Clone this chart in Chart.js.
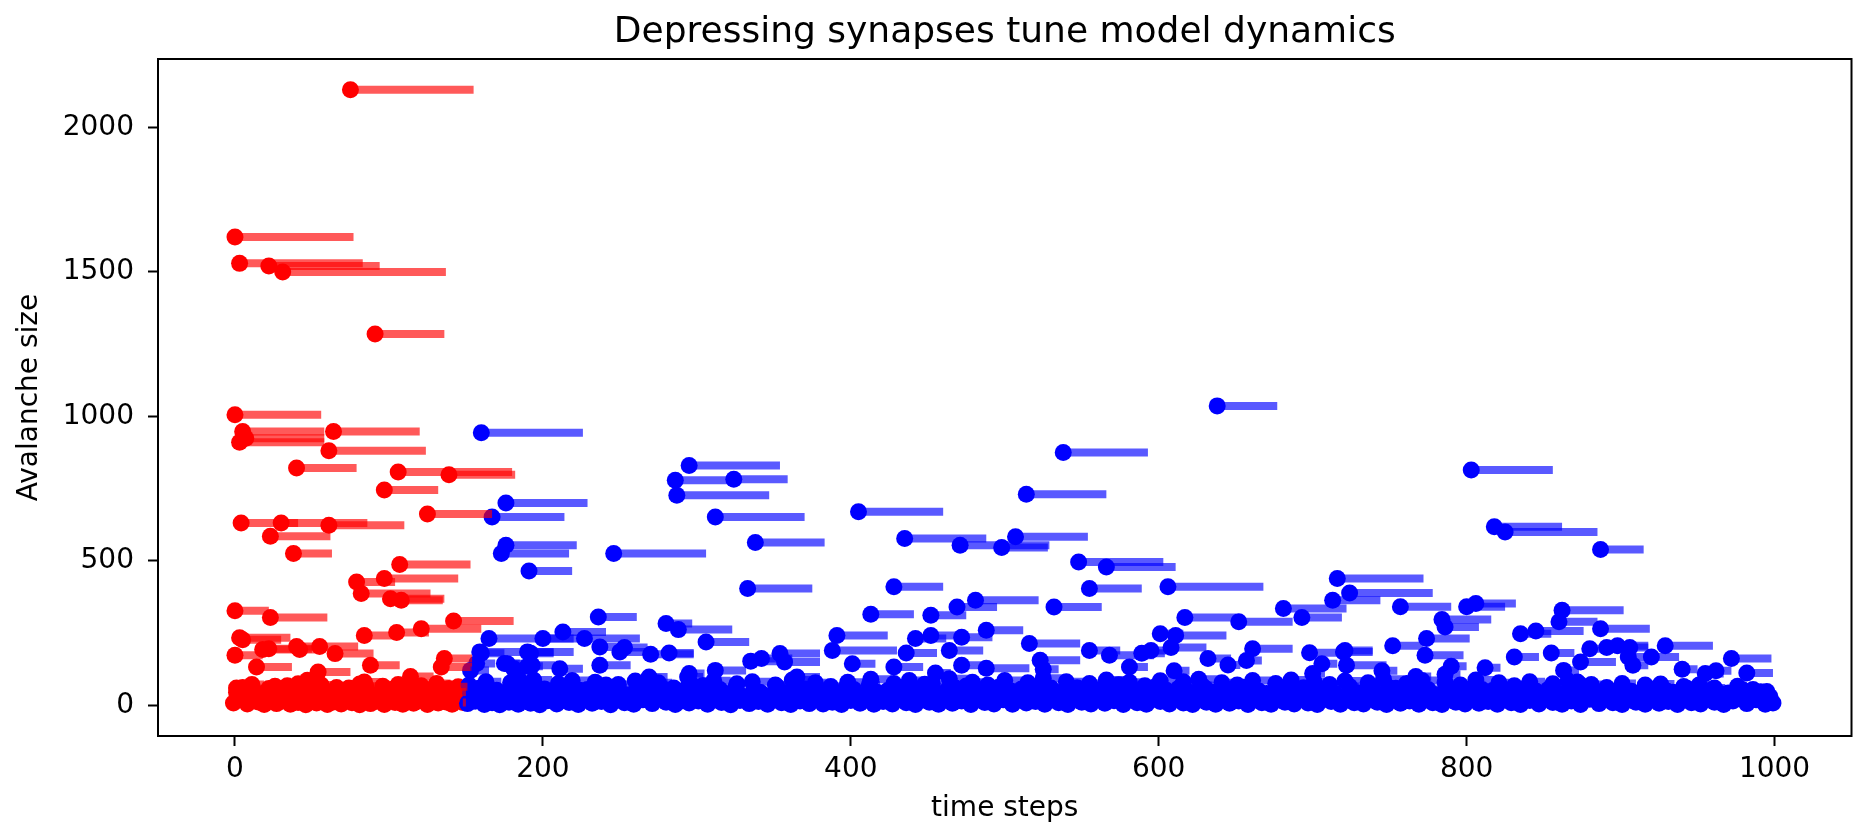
<!DOCTYPE html>
<html>
<head>
<meta charset="utf-8">
<script src="https://cdn.jsdelivr.net/npm/chart.js@4.4.1/dist/chart.umd.min.js"></script>
<style>
html,body{margin:0;padding:0;background:#fff;}
#wrap{width:1860px;height:830px;position:relative;}
</style>
</head>
<body>
<div id="wrap"><canvas id="c" width="1860" height="830"></canvas></div>
<script>
// ---------- texts & ticks ----------
const chartTitle = 'Depressing synapses tune model dynamics';
const xLabel = 'time steps';
const yLabel = 'Avalanche size';
const xTicks = [0, 200, 400, 600, 800, 1000];
const yTicks = [0, 500, 1000, 1500, 2000];

// ---------- red avalanches (early period): start time, size, duration ----------
const redTime = [
  75, 0, 3, 22, 31, 91, 0, 5, 3, 7,
  64, 61, 40, 106, 139, 97, 125, 4, 30, 61,
  23, 38, 107, 79, 97, 82, 101, 108, 0, 23,
  142, 121, 105, 84, 3, 5, 0, 18, 22, 40,
  42, 55, 65, 14, 88, 54, 114, 136, 134, 84,
  47,
  -1, 1, 3, 5, 8, 10, 12, 15, 17, 19,
  22, 24, 27, 29, 31, 34, 36, 39, 41, 43,
  46, 48, 50, 53, 55, 57, 60, 62, 64, 67,
  69, 71, 74, 76, 78, 81, 83, 85, 88, 90,
  92, 95, 97, 99, 102, 104, 106, 109, 111, 113,
  116, 118, 120, 123, 125, 127, 130, 132, 134, 137,
  139, 141, 143, 146, 148
];
const redSize = [
  2130, 1620, 1529, 1520, 1499, 1285, 1005, 947, 910, 924,
  947, 881, 821, 807, 798, 745, 662, 631, 631, 623,
  585, 525, 487, 427, 439, 387, 369, 364, 327, 304,
  292, 265, 252, 242, 234, 227, 173, 193, 196, 204,
  193, 204, 179, 133, 139, 115, 100, 162, 133, 81,
  87,
  8, 45, 20, 62, 5, 30, 52, 12, 38, 3,
  58, 22, 6, 44, 15, 68, 4, 32, 10, 54,
  2, 26, 40, 8, 64, 18, 3, 36, 12, 50,
  5, 28, 60, 9, 42, 2, 24, 66, 6, 34,
  14, 48, 3, 30, 56, 10, 38, 4, 22, 62,
  7, 40, 16, 52, 3, 28, 66, 8, 36, 12,
  58, 4, 26, 46, 10
];
const redDur = [
  80, 77, 80, 72, 106, 45, 56, 53, 55, 51,
  56, 63, 39, 74, 43, 35, 42, 37, 56, 49,
  39, 25, 46, 25, 48, 45, 35, 27, 22, 37,
  39, 39, 21, 21, 33, 25, 18, 25, 28, 16,
  14, 25, 25, 23, 19, 21, 15, 18, 20, 12,
  10,
  3, 4, 2, 6, 2, 3, 5, 2, 4, 1,
  6, 3, 2, 4, 2, 7, 1, 3, 2, 5,
  1, 3, 4, 2, 6, 2, 1, 3, 2, 5,
  1, 3, 6, 2, 4, 1, 3, 7, 2, 3,
  2, 5, 1, 3, 6, 2, 4, 1, 2, 6,
  2, 4, 2, 5, 1, 3, 7, 2, 3, 2,
  6, 1, 3, 4, 2
];
// further small red avalanches in the dense band near zero
const redFillTime = [
  1, 6, 11, 16, 21, 26, 31, 36, 41, 46,
  51, 56, 61, 66, 71, 76, 81, 86, 91, 96,
  101, 106, 111, 116, 121, 126, 131, 136, 141, 145
];
const redFillSize = [
  60, 25, 72, 40, 18, 66, 48, 22, 75, 45,
  20, 70, 35, 62, 52, 25, 74, 45, 20, 66,
  38, 72, 50, 22, 68, 42, 76, 55, 25, 64
];
const redFillDur = [
  6, 3, 8, 4, 2, 7, 5, 2, 9, 5,
  2, 8, 4, 7, 6, 3, 8, 5, 2, 7,
  4, 8, 5, 2, 7, 4, 9, 6, 3, 6
];

// ---------- blue avalanches (later period): start time, size, duration ----------
const blueTime = [
  160, 176, 167, 176, 173, 246, 191, 295, 286, 324,
  287, 312, 338, 333, 405, 435, 471, 498, 507, 538,
  514, 638, 548, 566, 555, 606, 428, 481, 469, 532,
  413, 452, 617, 652, 391, 442, 452, 472, 488, 516,
  601, 611, 555, 568, 388, 335, 342, 354, 357, 436,
  464, 455, 472, 488, 523, 401, 428, 632, 661, 608,
  803, 818, 825, 887, 716, 724, 713, 681, 693, 757,
  800, 806, 784, 786, 862, 860, 887, 835, 845, 774,
  752, 773, 698, 720, 722, 706, 831, 855, 880, 891,
  898, 906, 929, 972, 982, 874, 863, 812, 905, 908,
  920, 786, 767, 872, 955, 962, 657, 721, 236, 280,
  288, 306, 165, 200, 213, 227, 237, 250, 270, 282,
  159, 190, 177, 181, 193, 153, 211, 237, 269, 294,
  185, 312, 365, 295, 581, 589, 595, 253, 157, 160,
  175, 192, 190, 525, 645, 610, 745, 790, 940, 700,
  151, 153, 156, 159, 162, 164, 167, 170, 172, 175,
  178, 181, 184, 187, 190, 192, 195, 198, 201, 203,
  206, 209, 212, 215, 217, 220, 223, 226, 229, 232,
  235, 238, 241, 244, 247, 250, 253, 256, 259, 262,
  265, 268, 271, 274, 277, 280, 283, 286, 289, 292,
  295, 298, 301, 304, 307, 310, 313, 316, 319, 322,
  325, 328, 331, 334, 337, 340, 343, 346, 349, 352,
  355, 358, 361, 364, 367, 370, 373, 376, 379, 382,
  385, 388, 391, 394, 397, 400, 403, 406, 409, 412,
  415, 418, 421, 424, 427, 430, 433, 436, 439, 442,
  445, 448, 451, 454, 457, 460, 463, 466, 469, 472,
  475, 478, 481, 484, 487, 490, 493, 496, 499, 502,
  505, 508, 511, 514, 517, 520, 523, 526, 529, 532,
  535, 538, 541, 544, 547, 550, 553, 556, 559, 562,
  565, 568, 571, 574, 577, 580, 583, 586, 589, 592,
  595, 598, 601, 604, 607, 610, 613, 616, 619, 622,
  625, 628, 631, 634, 637, 640, 643, 646, 649, 652,
  655, 658, 661, 664, 667, 670, 673, 676, 679, 682,
  685, 688, 691, 694, 697, 700, 703, 706, 709, 712,
  715, 718, 721, 724, 727, 730, 733, 736, 739, 742,
  745, 748, 751, 754, 757, 760, 763, 766, 769, 772,
  775, 778, 781, 784, 787, 790, 793, 796, 799, 802,
  805, 808, 811, 814, 817, 820, 823, 826, 829, 832,
  835, 838, 841, 844, 847, 850, 853, 856, 859, 862,
  865, 868, 871, 874, 877, 880, 883, 886, 889, 892,
  895, 898, 901, 904, 907, 910, 913, 916, 919, 922,
  925, 928, 931, 934, 937, 940, 943, 946, 949, 952,
  955, 958, 961, 964, 967, 970, 973, 976, 979, 982,
  985, 988, 991, 994, 997, 999
];
const blueSize = [
  943, 700, 652, 554, 525, 525, 465, 830, 779, 782,
  727, 652, 563, 404, 670, 577, 554, 546, 583, 875,
  730, 1036, 496, 479, 404, 410, 410, 364, 340, 340,
  315, 312, 304, 289, 242, 231, 242, 236, 260, 214,
  248, 242, 190, 173, 190, 153, 162, 179, 150, 181,
  190, 112, 139, 128, 156, 144, 133, 162, 196, 200,
  814, 618, 600, 539, 439, 389, 364, 335, 304, 341,
  341, 352, 297, 271, 329, 289, 265, 248, 257, 231,
  206, 173, 182, 185, 139, 144, 167, 181, 196, 200,
  206, 200, 206, 162, 112, 150, 121, 130, 167, 139,
  167, 108, 100, 81, 110, 120, 155, 190, 306, 283,
  262, 219, 231, 231, 254, 231, 202, 185, 177, 181,
  185, 185, 144, 127, 139, 121, 127, 139, 98, 98,
  87, 121, 98, 110, 133, 180, 190, 200, 145, 180,
  145, 180, 135, 125, 140, 120, 120, 135, 125, 110,
  6, 42, 14, 60, 3, 30, 9, 52, 2, 36,
  11, 64, 4, 25, 46, 7, 31, 2, 57, 16,
  39, 5, 27, 67, 10, 43, 3, 21, 55, 7,
  34, 13, 70, 2, 28, 49, 9, 37, 4, 61,
  19, 45, 6, 31, 63, 11, 41, 3, 23, 53,
  8, 35, 15, 69, 4, 27, 47, 10, 39, 2,
  59, 17, 31, 6, 51, 13, 37, 4, 25, 65,
  9, 43, 3, 31, 15, 57, 6, 37, 21, 5,
  49, 11, 29, 3, 61, 17, 41, 7, 26, 71,
  4, 35, 13, 51, 5, 31, 59, 9, 39, 3,
  23, 73, 11, 45, 4, 29, 55, 7, 37, 15,
  67, 3, 27, 49, 10, 33, 5, 63, 19, 41,
  4, 25, 57, 8, 36, 13, 69, 4, 29, 47,
  9, 39, 3, 21, 61, 11, 43, 5, 31, 55,
  7, 35, 16, 71, 3, 27, 51, 9, 41, 4,
  23, 65, 13, 45, 5, 33, 59, 8, 39, 3,
  29, 69, 11, 47, 4, 25, 53, 7, 37, 15,
  63, 3, 31, 49, 9, 41, 4, 23, 57, 11,
  37, 5, 27, 61, 8, 45, 3, 31, 51, 13,
  39, 4, 21, 65, 9, 43, 5, 29, 55, 11,
  35, 3, 25, 59, 7, 41, 15, 69, 4, 31,
  47, 9, 37, 3, 23, 57, 11, 43, 5, 29,
  63, 7, 39, 13, 51, 4, 27, 41, 9, 35,
  3, 59, 17, 39, 5, 25, 55, 10, 33, 4,
  47, 15, 37, 3, 61, 21, 41, 6, 29, 53,
  9, 35, 3, 23, 49, 11, 39, 4, 31, 57,
  7, 35, 13, 45, 3, 27, 59, 9, 37, 5,
  21, 51, 11, 33, 3, 43, 15, 29, 55, 6,
  35, 19, 47, 4, 31, 8
];
const blueDur = [
  66, 53, 47, 46, 44, 60, 28, 59, 36, 35,
  60, 58, 45, 42, 55, 53, 58, 30, 47, 55,
  52, 39, 55, 45, 34, 62, 32, 41, 26, 31,
  28, 23, 33, 35, 33, 20, 20, 20, 24, 33,
  15, 33, 20, 29, 42, 20, 20, 26, 23, 20,
  22, 10, 18, 28, 26, 15, 19, 15, 26, 23,
  53, 44, 60, 28, 56, 54, 31, 41, 26, 33,
  25, 26, 32, 22, 40, 25, 32, 20, 31, 28,
  20, 25, 22, 19, 26, 10, 16, 15, 18, 14,
  20, 12, 31, 26, 17, 23, 10, 10, 15, 10,
  18, 10, 10, 10, 12, 10, 10, 18, 25, 17,
  35, 28, 61, 20, 28, 36, 20, 20, 28, 16,
  48, 30, 20, 15, 15, 12, 15, 20, 12, 10,
  10, 20, 15, 10, 12, 15, 10, 15, 12, 15,
  10, 15, 10, 10, 8, 10, 10, 10, 10, 8,
  2, 4, 2, 6, 1, 3, 2, 5, 1, 4,
  2, 6, 1, 3, 4, 2, 3, 1, 6, 2,
  4, 1, 3, 7, 2, 4, 1, 2, 5, 2,
  3, 2, 7, 1, 3, 5, 2, 4, 1, 6,
  2, 4, 2, 3, 6, 2, 4, 1, 2, 5,
  2, 3, 2, 7, 1, 3, 4, 2, 4, 1,
  6, 2, 3, 2, 5, 2, 4, 1, 3, 6,
  2, 4, 1, 3, 2, 5, 2, 4, 2, 1,
  5, 2, 3, 1, 6, 2, 4, 2, 3, 7,
  1, 3, 2, 5, 1, 3, 6, 2, 4, 1,
  2, 7, 2, 4, 1, 3, 5, 2, 4, 2,
  7, 1, 3, 5, 2, 3, 1, 6, 2, 4,
  1, 3, 5, 2, 4, 2, 7, 1, 3, 4,
  2, 4, 1, 2, 6, 2, 4, 1, 3, 5,
  2, 3, 2, 7, 1, 3, 5, 2, 4, 1,
  2, 6, 2, 4, 1, 3, 6, 2, 4, 1,
  3, 7, 2, 4, 1, 3, 5, 2, 4, 2,
  6, 1, 3, 5, 2, 4, 1, 2, 5, 2,
  4, 1, 3, 6, 2, 4, 1, 3, 5, 2,
  4, 1, 2, 6, 2, 4, 1, 3, 5, 2,
  3, 1, 3, 6, 2, 4, 2, 7, 1, 3,
  4, 2, 4, 1, 2, 5, 2, 4, 1, 3,
  6, 2, 4, 2, 5, 1, 3, 4, 2, 3,
  1, 6, 2, 4, 1, 3, 5, 2, 3, 1,
  4, 2, 4, 1, 6, 2, 4, 2, 3, 5,
  2, 3, 1, 2, 5, 2, 4, 1, 3, 5,
  2, 3, 2, 4, 1, 3, 6, 2, 4, 1,
  2, 5, 2, 3, 1, 4, 2, 3, 5, 2,
  3, 2, 4, 1, 2, 1
];
// further small blue avalanches that thicken the dense band near zero
const blueFillTime = [
  152, 157, 163, 168, 173, 179, 183, 188, 194, 199,
  204, 210, 214, 219, 224, 230, 234, 239, 245, 249,
  254, 260, 264, 270, 275, 279, 285, 290, 296, 300,
  306, 311, 315, 321, 326, 331, 336, 341, 347, 351,
  356, 362, 366, 372, 377, 381, 387, 392, 398, 402,
  408, 413, 417, 423, 428, 432, 438, 443, 449, 453,
  459, 464, 468, 474, 479, 483, 489, 494, 500, 504,
  510, 515, 519, 525, 530, 535, 540, 544, 550, 555,
  560, 566, 570, 576, 581, 585, 591, 596, 601, 605,
  611, 616, 620, 626, 630, 636, 641, 645, 651, 656,
  661, 665, 671, 676, 680, 686, 690, 696, 701, 705,
  711, 716, 721, 725, 731, 736, 740, 746, 750, 756,
  761, 765, 771, 775, 781, 786, 790, 796, 800, 806,
  810, 816, 821, 825, 831, 835, 841, 845, 851, 856,
  860, 866, 870, 876, 881, 885, 891, 895, 901, 905,
  911, 916, 920, 926, 930, 936, 941, 945, 951, 955,
  961, 965, 971, 976, 980, 986, 990, 995
];
const blueFillSize = [
  70, 22, 82, 35, 15, 78, 48, 20, 88, 40,
  18, 75, 30, 86, 52, 25, 80, 45, 18, 72,
  28, 84, 50, 20, 78, 38, 60, 15, 76, 42,
  25, 85, 55, 30, 75, 18, 82, 45, 22, 70,
  35, 88, 50, 20, 78, 40, 65, 25, 80, 55,
  30, 90, 45, 20, 76, 38, 86, 55, 28, 75,
  40, 92, 60, 22, 80, 45, 70, 30, 86, 50,
  25, 78, 40, 94, 60, 30, 82, 48, 22, 76,
  40, 88, 55, 25, 80, 45, 68, 30, 85, 52,
  25, 82, 45, 90, 60, 28, 78, 42, 70, 25,
  86, 50, 22, 76, 40, 88, 55, 30, 82, 45,
  72, 25, 84, 50, 20, 78, 42, 90, 60, 28,
  76, 40, 86, 55, 25, 80, 45, 70, 30, 88,
  55, 22, 78, 42, 68, 25, 82, 50, 22, 75,
  40, 84, 55, 25, 72, 38, 62, 22, 76, 45,
  20, 70, 35, 74, 50, 22, 65, 35, 70, 25,
  60, 40, 18, 66, 32, 55, 25, 48
];
const blueFillDur = [
  6, 3, 10, 4, 2, 8, 5, 2, 12, 4,
  2, 9, 3, 14, 6, 3, 10, 5, 2, 8,
  3, 12, 6, 2, 9, 4, 7, 2, 10, 5,
  3, 11, 6, 3, 8, 2, 12, 5, 2, 8,
  4, 13, 6, 2, 9, 4, 7, 3, 10, 6,
  3, 14, 5, 2, 9, 4, 12, 6, 3, 8,
  4, 15, 7, 2, 10, 5, 8, 3, 12, 6,
  3, 9, 4, 14, 7, 3, 11, 5, 2, 8,
  4, 12, 6, 3, 10, 5, 7, 3, 11, 6,
  3, 10, 5, 13, 7, 3, 9, 4, 8, 3,
  12, 6, 2, 9, 4, 13, 6, 3, 10, 5,
  8, 3, 11, 6, 2, 9, 4, 13, 7, 3,
  9, 4, 12, 6, 3, 10, 5, 8, 3, 12,
  6, 2, 9, 4, 7, 3, 10, 6, 2, 8,
  4, 11, 6, 3, 8, 4, 7, 2, 9, 5,
  2, 8, 4, 9, 6, 2, 7, 4, 8, 3,
  7, 4, 2, 6, 3, 5, 2, 3
];

// ---------- build chart data from the arrays ----------
const FONT = 'DejaVu Sans';
const RED_BAR = 'rgba(255,0,0,0.65)';
const BLUE_BAR = 'rgba(0,0,255,0.65)';
const redPts = [], bluePts = [], bars = [], barColors = [];
function addSeries(times, sizes, durs, pts, color) {
  times.forEach((t, i) => {
    pts.push({x: t, y: sizes[i]});
    bars.push({y: sizes[i], x: [t, t + durs[i]]});
    barColors.push(color);
  });
}
addSeries(redTime, redSize, redDur, redPts, RED_BAR);
addSeries(redFillTime, redFillSize, redFillDur, redPts, RED_BAR);
addSeries(blueTime, blueSize, blueDur, bluePts, BLUE_BAR);
addSeries(blueFillTime, blueFillSize, blueFillDur, bluePts, BLUE_BAR);

const framePlugin = {
  id: 'frame',
  afterDatasetsDraw(chart) {
    const {ctx, chartArea: a} = chart;
    ctx.save();
    ctx.strokeStyle = '#000';
    ctx.lineWidth = 2;
    ctx.strokeRect(a.left, a.top, a.right - a.left, a.bottom - a.top);
    ctx.restore();
  }
};

Chart.defaults.font.family = FONT;

new Chart(document.getElementById('c'), {
  type: 'scatter',
  data: {
    datasets: [
      {
        type: 'bar', indexAxis: 'y', data: bars, backgroundColor: barColors,
        borderWidth: 0, barThickness: 8, inflateAmount: 0, order: 0
      },
      {
        type: 'scatter', data: bluePts, backgroundColor: '#0000ff', borderWidth: 0,
        pointRadius: 8.5, order: 1
      },
      {
        type: 'scatter', data: redPts, backgroundColor: '#ff0000', borderWidth: 0,
        pointRadius: 8.5, order: 2
      }
    ]
  },
  options: {
    responsive: false,
    animation: false,
    devicePixelRatio: 1,
    events: [],
    layout: {padding: {left: 0, right: 2, top: 0, bottom: 0}},
    plugins: {
      legend: {display: false},
      tooltip: {enabled: false},
      title: {
        display: true, text: chartTitle, color: '#000', fullSize: false,
        font: {family: FONT, size: 36, weight: 'normal'},
        padding: {top: 11, bottom: 4.8}
      }
    },
    scales: {
      x: {
        type: 'linear', min: -50, max: 1050, offset: false, stacked: false,
        afterBuildTicks: s => { s.ticks = xTicks.map(v => ({value: v})); },
        afterFit: s => { s.height = 94; },
        grid: {display: true, drawOnChartArea: false, drawTicks: true, tickLength: 10, tickWidth: 2, tickColor: '#000', offset: false},
        border: {display: false},
        ticks: {color: '#000', font: {family: FONT, size: 28}, padding: 7, maxRotation: 0, autoSkip: false, callback: v => String(v)},
        title: {display: true, text: xLabel, color: '#000', font: {family: FONT, size: 28}, padding: {top: 0, bottom: 4.5}}
      },
      y: {
        type: 'linear', min: -106, max: 2236, offset: false, stacked: false,
        afterBuildTicks: s => { s.ticks = yTicks.map(v => ({value: v})); },
        afterFit: s => { s.width = 158; },
        grid: {display: true, drawOnChartArea: false, drawTicks: true, tickLength: 10, tickWidth: 2, tickColor: '#000', offset: false},
        border: {display: false},
        ticks: {color: '#000', font: {family: FONT, size: 28}, padding: 14, autoSkip: false, callback: v => String(v)},
        title: {display: true, text: yLabel, color: '#000', font: {family: FONT, size: 28}, padding: {top: 13, bottom: 0}}
      }
    }
  },
  plugins: [framePlugin]
});
</script>
</body>
</html>
